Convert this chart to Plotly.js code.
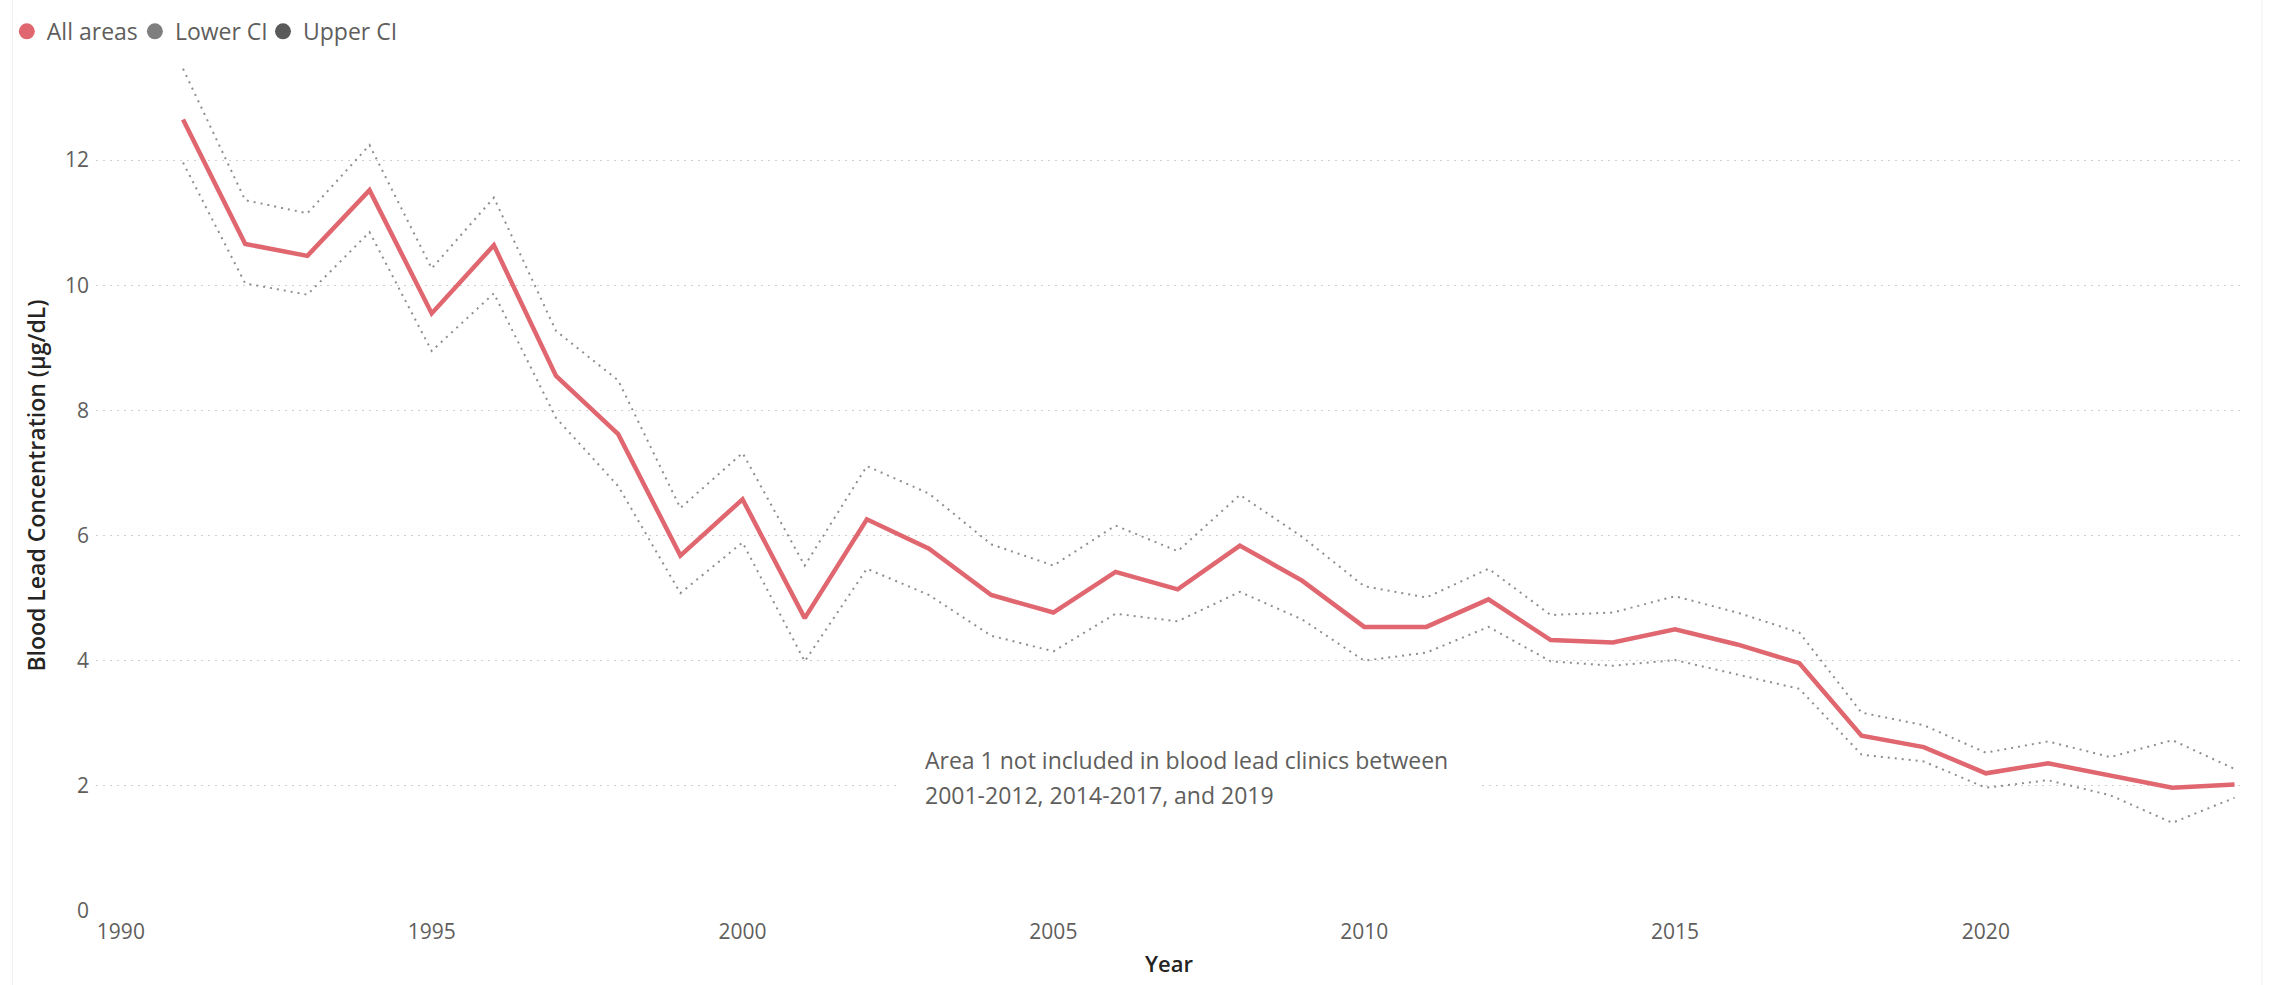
<!DOCTYPE html>
<html>
<head>
<meta charset="utf-8">
<script src="https://cdn.plot.ly/plotly-3.0.1.min.js"></script>
<style>
html,body{margin:0;padding:0;background:#fff;}
#chart{width:2275px;height:985px;}
</style>
</head>
<body>
<div id="chart"></div>
<script>
// ---- data ----
var years = [1991,1992,1993,1994,1995,1996,1997,1998,1999,2000,2001,2002,2003,2004,2005,2006,2007,2008,2009,2010,2011,2012,2013,2014,2015,2016,2017,2018,2019,2020,2021,2022,2023,2024];
var allAreas = [12.65,10.66,10.47,11.52,9.55,10.64,8.55,7.62,5.68,6.58,4.68,6.26,5.79,5.05,4.77,5.42,5.14,5.84,5.28,4.54,4.54,4.98,4.33,4.29,4.50,4.26,3.96,2.80,2.62,2.20,2.36,2.16,1.97,2.02];
var upperCI = [13.46,11.36,11.15,12.24,10.27,11.40,9.27,8.48,6.44,7.32,5.52,7.11,6.67,5.86,5.52,6.16,5.75,6.65,5.98,5.19,5.01,5.47,4.73,4.77,5.03,4.77,4.45,3.17,2.97,2.53,2.71,2.46,2.73,2.27];
var lowerCI = [11.96,10.03,9.85,10.85,8.95,9.87,7.88,6.79,5.08,5.89,3.99,5.47,5.05,4.40,4.15,4.75,4.63,5.10,4.66,4.00,4.13,4.54,3.99,3.92,4.01,3.78,3.55,2.50,2.39,1.97,2.09,1.85,1.41,1.81];
var seriesNames = ["All areas","Lower CI","Upper CI"];
var xTicks = [1990,1995,2000,2005,2010,2015,2020];
var yTicks = [0,2,4,6,8,10,12];
var noteLines = ["Area 1 not included in blood lead clinics between","2001-2012, 2014-2017, and 2019"];

var FONT = "'Open Sans', 'Noto Sans', sans-serif";
var txt = "#605E5C";
var dark = "#252423";
var mainColor = "#E0666F";
var ciColor = "#8E8E8E";

var traces = [
  {x: years, y: upperCI, mode: "lines", name: seriesNames[2], showlegend: false,
   line: {color: ciColor, width: 2, dash: "2px,5px"}, hoverinfo: "x+y+name"},
  {x: years, y: lowerCI, mode: "lines", name: seriesNames[1], showlegend: false,
   line: {color: ciColor, width: 2, dash: "2px,5px"}, hoverinfo: "x+y+name"},
  {x: years, y: allAreas, mode: "lines", name: seriesNames[0], showlegend: false,
   line: {color: mainColor, width: 4.5}, hoverinfo: "x+y+name"},
  // legend entries (circle markers, as in the reference)
  {x: [null], y: [null], mode: "markers", name: seriesNames[0], legend: "legend", marker: {symbol: "circle", size: 16, color: mainColor}},
  {x: [null], y: [null], mode: "markers", name: seriesNames[1], legend: "legend2", marker: {symbol: "circle", size: 16, color: "#7F7F7F"}},
  {x: [null], y: [null], mode: "markers", name: seriesNames[2], legend: "legend3", marker: {symbol: "circle", size: 16, color: "#5A5A5A"}}
];

var legendBase = {
  orientation: "h", xref: "container", yref: "container",
  y: 0.99, xanchor: "left", yanchor: "top",
  font: {family: FONT, size: 23, color: txt},
  itemwidth: 30, bgcolor: "rgba(0,0,0,0)", traceorder: "normal"
};

var layout = {
  width: 2275, height: 985,
  paper_bgcolor: "#fff", plot_bgcolor: "#fff",
  font: {family: FONT, color: txt, size: 21},
  margin: {l: 96, r: 33, t: 60, b: 74, autoexpand: false},
  showlegend: true,
  legend: Object.assign({}, legendBase, {x: 0.003}),
  legend2: Object.assign({}, legendBase, {x: 0.0593}),
  legend3: Object.assign({}, legendBase, {x: 0.1156}),
  xaxis: {
    range: [1989.6, 2024.12],
    tickvals: xTicks, ticktext: xTicks.map(String),
    showgrid: false, zeroline: false, showline: false, ticks: "",
    tickfont: {family: FONT, size: 21, color: txt},
    ticklabelstandoff: 6,
    title: {text: "Year", font: {family: FONT, size: 22, color: dark, weight: 600}, standoff: 12}
  },
  yaxis: {
    range: [0, 13.6],
    tickvals: yTicks, ticktext: yTicks.map(String),
    showgrid: true, gridcolor: "#CFCFCF", gridwidth: 1.2, griddash: "2px,5px",
    zeroline: false, showline: false, ticks: "",
    tickfont: {family: FONT, size: 21, color: txt},
    ticklabelstandoff: 6,
    title: {text: "Blood Lead Concentration (µg/dL)", font: {family: FONT, size: 23, color: dark, weight: 600}, standoff: 12}
  },
  annotations: [
    {xref: "paper", yref: "paper", x: 0.384, y: (911-760)/851, xanchor: "left", yanchor: "middle",
     text: noteLines[0], showarrow: false, align: "left", bgcolor: "#fff", borderpad: 4,
     font: {family: FONT, size: 23, color: txt}},
    {xref: "paper", yref: "paper", x: 0.384, y: (911-795)/851, xanchor: "left", yanchor: "middle",
     text: noteLines[1], showarrow: false, align: "left", bgcolor: "#fff", borderpad: 4,
     font: {family: FONT, size: 23, color: txt}}
  ],
  shapes: [
    {type: "line", xref: "paper", yref: "paper", x0: -0.039, x1: -0.039, y0: -0.087, y1: 1.07, line: {color: "#EDEDED", width: 1}},
    {type: "line", xref: "paper", yref: "paper", x0: 1.0093, x1: 1.0093, y0: -0.087, y1: 1.07, line: {color: "#EDEDED", width: 1}},
    // white patch behind the note, so the grid line is interrupted as in the reference
    {type: "rect", xref: "paper", yref: "paper", x0: (900-96)/2146, x1: (1480-96)/2146, y0: (911-815)/851, y1: (911-740)/851, fillcolor: "#fff", line: {width: 0}, layer: "above"}
  ],
  hovermode: "closest"
};

Plotly.newPlot("chart", traces, layout, {displayModeBar: false, staticPlot: false});
</script>
</body>
</html>
